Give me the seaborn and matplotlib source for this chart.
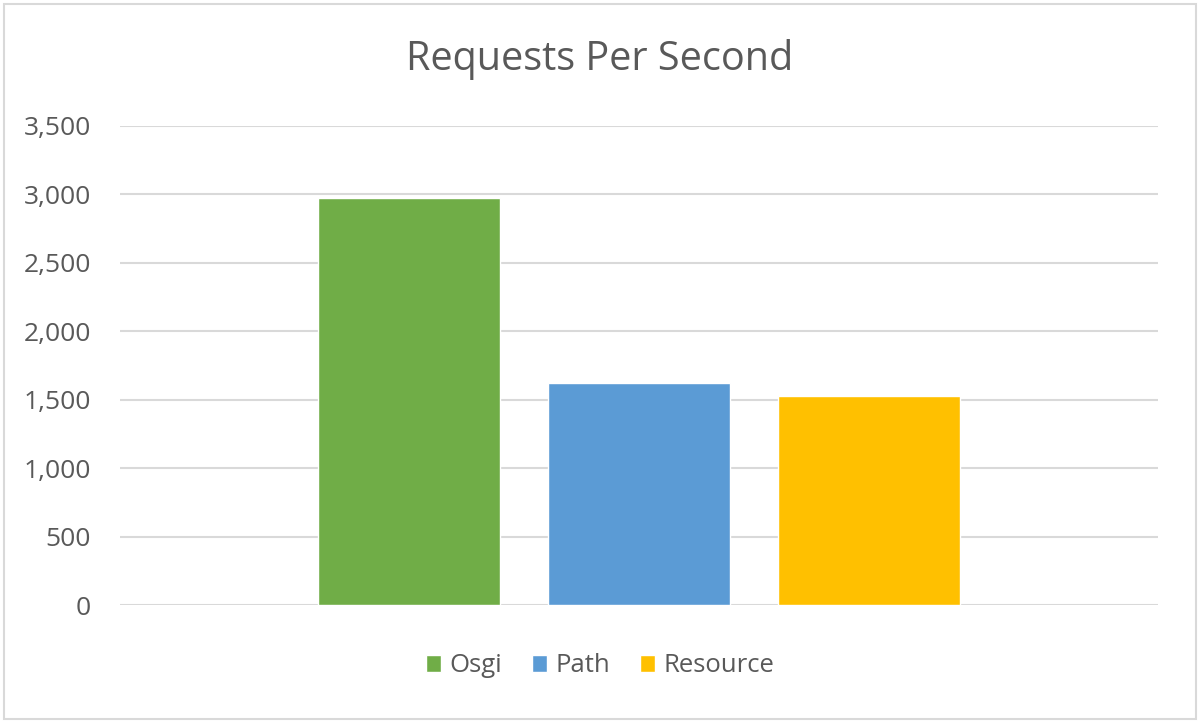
import pandas as pd
import seaborn as sns
import matplotlib.pyplot as plt
from matplotlib.patches import Rectangle

# Data
series = ["Osgi", "Path", "Resource"]
requests = [2970, 1617, 1522]
colors = ["#70ad47", "#5b9bd5", "#ffc000"]
yticks = [0, 500, 1000, 1500, 2000, 2500, 3000, 3500]

df = pd.DataFrame({"group": [""] * len(series), "series": series, "rps": requests})

sns.set_style("white")
plt.rcParams["font.family"] = ["Open Sans", "DejaVu Sans"]

fig = plt.figure(figsize=(12, 7.23), dpi=100)
ax = fig.add_axes([0.1, 0.1632, 0.865, 0.6632])

sns.barplot(data=df, x="group", y="rps", hue="series", palette=colors,
            width=0.8, gap=0.21, saturation=1, ax=ax, legend=True)

ax.set_ylim(0, 3500)
ax.set_xlim(-0.6017, 0.6017)
ax.set_yticks(yticks)
ax.set_yticklabels([f"{v:,}" for v in yticks])
ax.set_xticks([])
ax.set_xlabel("")
ax.set_ylabel("")
ax.yaxis.grid(True, color="#d9d9d9", linewidth=1.5)
ax.set_axisbelow(True)
for s in ax.spines.values():
    s.set_visible(False)
ax.tick_params(axis="y", length=0, pad=21, labelsize=19, labelcolor="#595959")

fig.text(0.5, 0.918, "Requests Per Second", ha="center", va="center",
         fontsize=28.5, color="#595959")

ax.legend(loc="center", bbox_to_anchor=(0.5, 0.079), bbox_transform=fig.transFigure,
          ncol=3, frameon=False, fontsize=18.5, labelcolor="#595959",
          handlelength=0.61, handleheight=0.61, handletextpad=0.32,
          columnspacing=1.14)

# light border around the chart area
fig.patches.append(Rectangle((0.003, 0.005), 0.994, 0.99, transform=fig.transFigure,
                             fill=False, edgecolor="#d9d9d9", linewidth=1.5))

fig.savefig("out.png", dpi=100)
